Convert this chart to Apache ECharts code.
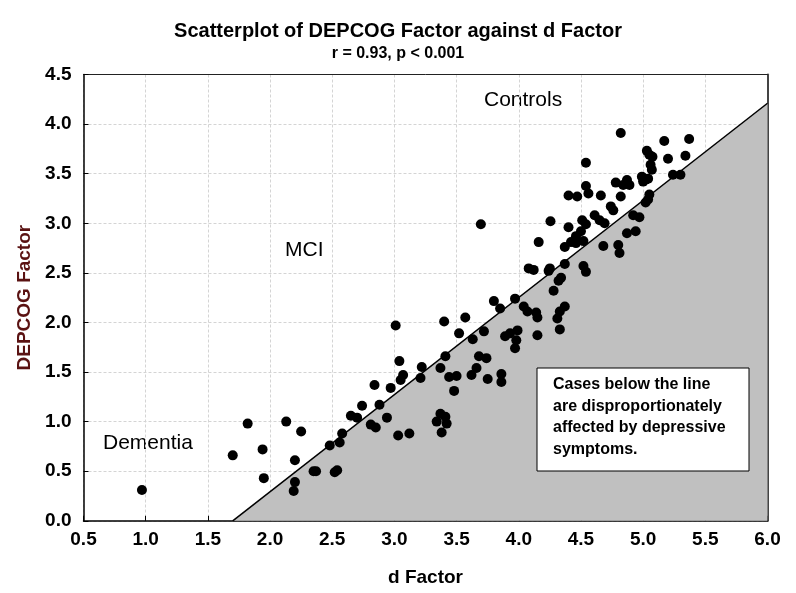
<!DOCTYPE html>
<html>
<head>
<meta charset="utf-8">
<script src="https://cdn.jsdelivr.net/npm/echarts@6/dist/echarts.min.js"></script>
<style>
html,body{margin:0;padding:0;background:#fff;}
#chart{width:796px;height:593px;}
</style>
</head>
<body>
<div id="chart"></div>
<script>
// d Factor (x) values
const dFactor = [
 0.97,1.70,1.82,1.94,1.95,2.13,2.25,2.20,2.20,2.19,
 2.35,2.37,2.52,2.54,2.48,2.56,2.58,2.65,2.70,2.74,
 2.88,2.81,2.85,2.94,2.84,2.97,3.03,3.12,3.01,3.04,
 3.07,3.05,3.22,3.21,3.34,3.37,3.41,3.42,3.38,3.37,
 3.41,3.40,3.57,3.52,3.63,3.72,3.44,3.50,3.48,3.62,
 3.66,3.68,3.74,3.75,3.86,3.86,3.695,3.80,3.85,3.97,
 3.89,3.93,3.99,3.98,3.97,4.04,4.07,4.14,4.15,4.15,
 4.08,4.12,4.16,4.24,4.25,4.255,4.28,4.32,4.34,4.37,
 4.33,4.31,4.33,4.37,4.52,4.54,4.40,4.51,4.54,4.50,
 4.46,4.42,4.37,4.46,4.52,4.40,4.47,4.54,4.56,4.66,
 4.54,4.61,4.65,4.69,4.68,4.74,4.76,4.78,4.82,4.87,
 4.89,4.84,4.80,4.81,4.82,4.92,4.97,4.87,4.94,4.99,
 5.00,5.02,5.04,5.05,5.04,5.02,5.03,5.05,5.075,5.06,
 5.07,5.17,5.20,5.24,5.30,5.34,5.37
];
// DEPCOG Factor (y) values
const depcog = [
 0.31,0.66,0.98,0.72,0.43,1.00,0.90,0.61,0.39,0.30,
 0.50,0.50,0.49,0.51,0.76,0.79,0.88,1.06,1.04,1.16,
 1.17,0.97,0.94,1.04,1.37,1.34,0.86,0.88,1.97,1.61,
 1.47,1.42,1.55,1.44,1.00,1.08,1.05,0.98,0.89,1.54,
 1.66,2.01,2.05,1.89,1.83,1.91,1.45,1.46,1.31,1.47,
 1.54,1.66,1.64,1.43,1.48,1.40,2.99,2.215,2.14,2.24,
 1.86,1.89,1.92,1.82,1.74,2.16,2.11,2.10,2.05,1.87,
 2.545,2.53,2.81,2.52,2.545,3.02,2.32,2.42,2.45,2.16,
 2.11,2.04,1.93,2.59,2.57,2.51,2.96,3.03,2.99,2.92,
 2.87,2.81,2.76,2.80,2.82,3.28,3.27,3.375,3.30,3.28,
 3.61,3.08,3.03,3.00,2.77,3.17,3.13,3.41,3.27,3.435,
 3.385,3.385,2.78,2.70,3.91,3.08,3.06,2.90,2.92,3.47,
 3.42,3.44,3.45,3.29,3.24,3.21,3.73,3.69,3.67,3.59,
 3.54,3.83,3.65,3.49,3.49,3.68,3.85
];
// Reference line (d Factor vs DEPCOG Factor), shaded below
const refLineX = [1.70, 6.0];
const refLineY = [0, 4.21];
// Axis ticks
const xTicks = {min: 0.5, max: 6.0, interval: 0.5};
const yTicks = {min: 0.0, max: 4.5, interval: 0.5};
// Texts
const titleText = 'Scatterplot of DEPCOG Factor against d Factor';
const subText = 'r = 0.93, p < 0.001';
const xName = 'd Factor';
const yName = 'DEPCOG Factor';
const regionLabels = ['Controls', 'MCI', 'Dementia'];
const noteLines = ['Cases below the line', 'are disproportionately', 'affected by depressive', 'symptoms.'];

const points = dFactor.map((x, i) => [x, depcog[i]]);
const linePts = refLineX.map((x, i) => [x, refLineY[i]]);

const FONT = '"Liberation Sans", Arial, sans-serif';
const chart = echarts.init(document.getElementById('chart'), null, {renderer: 'canvas'});
function frameAxis(pos, mn, mx, color, width) {
  return {
    type: 'value', position: pos, min: mn, max: mx,
    axisLabel: {show: false}, axisTick: {show: false}, splitLine: {show: false},
    axisLine: {show: true, onZero: false, lineStyle: {color: color, width: width}}
  };
}
chart.setOption({
  animation: false,
  backgroundColor: '#fff',
  title: {
    text: titleText,
    subtext: subText,
    left: 'center',
    top: 16,
    itemGap: 5,
    textStyle: {fontFamily: FONT, fontWeight: 'bold', fontSize: 20, color: '#000'},
    subtextStyle: {fontFamily: FONT, fontWeight: 'bold', fontSize: 16, color: '#000'}
  },
  grid: {left: 83.5, right: 28.5, top: 74.5, bottom: 72.2},
  xAxis: [{
    type: 'value', min: xTicks.min, max: xTicks.max, interval: xTicks.interval,
    name: xName, nameLocation: 'middle', nameGap: 47,
    nameTextStyle: {fontFamily: FONT, fontWeight: 'bold', fontSize: 19, color: '#000'},
    axisLine: {show: true, onZero: false, lineStyle: {color: '#000', width: 1.5}},
    axisTick: {show: true, inside: true, length: 5, lineStyle: {color: '#000'}},
    axisLabel: {margin: 9, fontFamily: FONT, fontWeight: 'bold', fontSize: 19, color: '#000',
      formatter: v => v.toFixed(1)},
    splitLine: {show: true, lineStyle: {color: '#d4d4d4', type: [3, 2], width: 1}}
  }, frameAxis('top', xTicks.min, xTicks.max, '#222', 1)],
  yAxis: [{
    type: 'value', min: yTicks.min, max: yTicks.max, interval: yTicks.interval,
    name: yName, nameLocation: 'middle', nameGap: 45, nameRotate: 90,
    nameTextStyle: {fontFamily: FONT, fontWeight: 'bold', fontSize: 19, color: '#5a1212'},
    axisLine: {show: true, onZero: false, lineStyle: {color: '#000', width: 1.5}},
    axisTick: {show: true, inside: true, length: 5, lineStyle: {color: '#000'}},
    axisLabel: {margin: 12, fontFamily: FONT, fontWeight: 'bold', fontSize: 19, color: '#000',
      formatter: v => v.toFixed(1)},
    splitLine: {show: true, lineStyle: {color: '#d4d4d4', type: [3, 2], width: 1}}
  }, frameAxis('right', yTicks.min, yTicks.max, '#444', 2)],
  series: [
    {
      type: 'line', data: linePts, symbol: 'none', z: 1,
      lineStyle: {color: '#000', width: 1.5},
      areaStyle: {color: '#c0c0c0', opacity: 1, origin: 'start'}
    },
    {
      type: 'scatter', data: points, symbol: 'circle', symbolSize: 10, z: 3,
      itemStyle: {color: '#000', opacity: 1}
    }
  ],
  graphic: [
    {type: 'text', left: 484, top: 90, style: {text: regionLabels[0], font: '21px ' + FONT, fill: '#000'}},
    {type: 'text', left: 285, top: 240, style: {text: regionLabels[1], font: '21px ' + FONT, fill: '#000'}},
    {type: 'text', left: 103, top: 433, style: {text: regionLabels[2], font: '21px ' + FONT, fill: '#000'}},
    {type: 'rect', z: 100, shape: {x: 537, y: 368, width: 212, height: 103},
      style: {fill: '#fff', stroke: '#000', lineWidth: 1}},
    {type: 'text', z: 101, left: 553, top: 374,
      style: {text: noteLines.join('\n'), font: 'bold 16px ' + FONT, fill: '#000', lineHeight: 21.5}}
  ]
});
</script>
</body>
</html>
